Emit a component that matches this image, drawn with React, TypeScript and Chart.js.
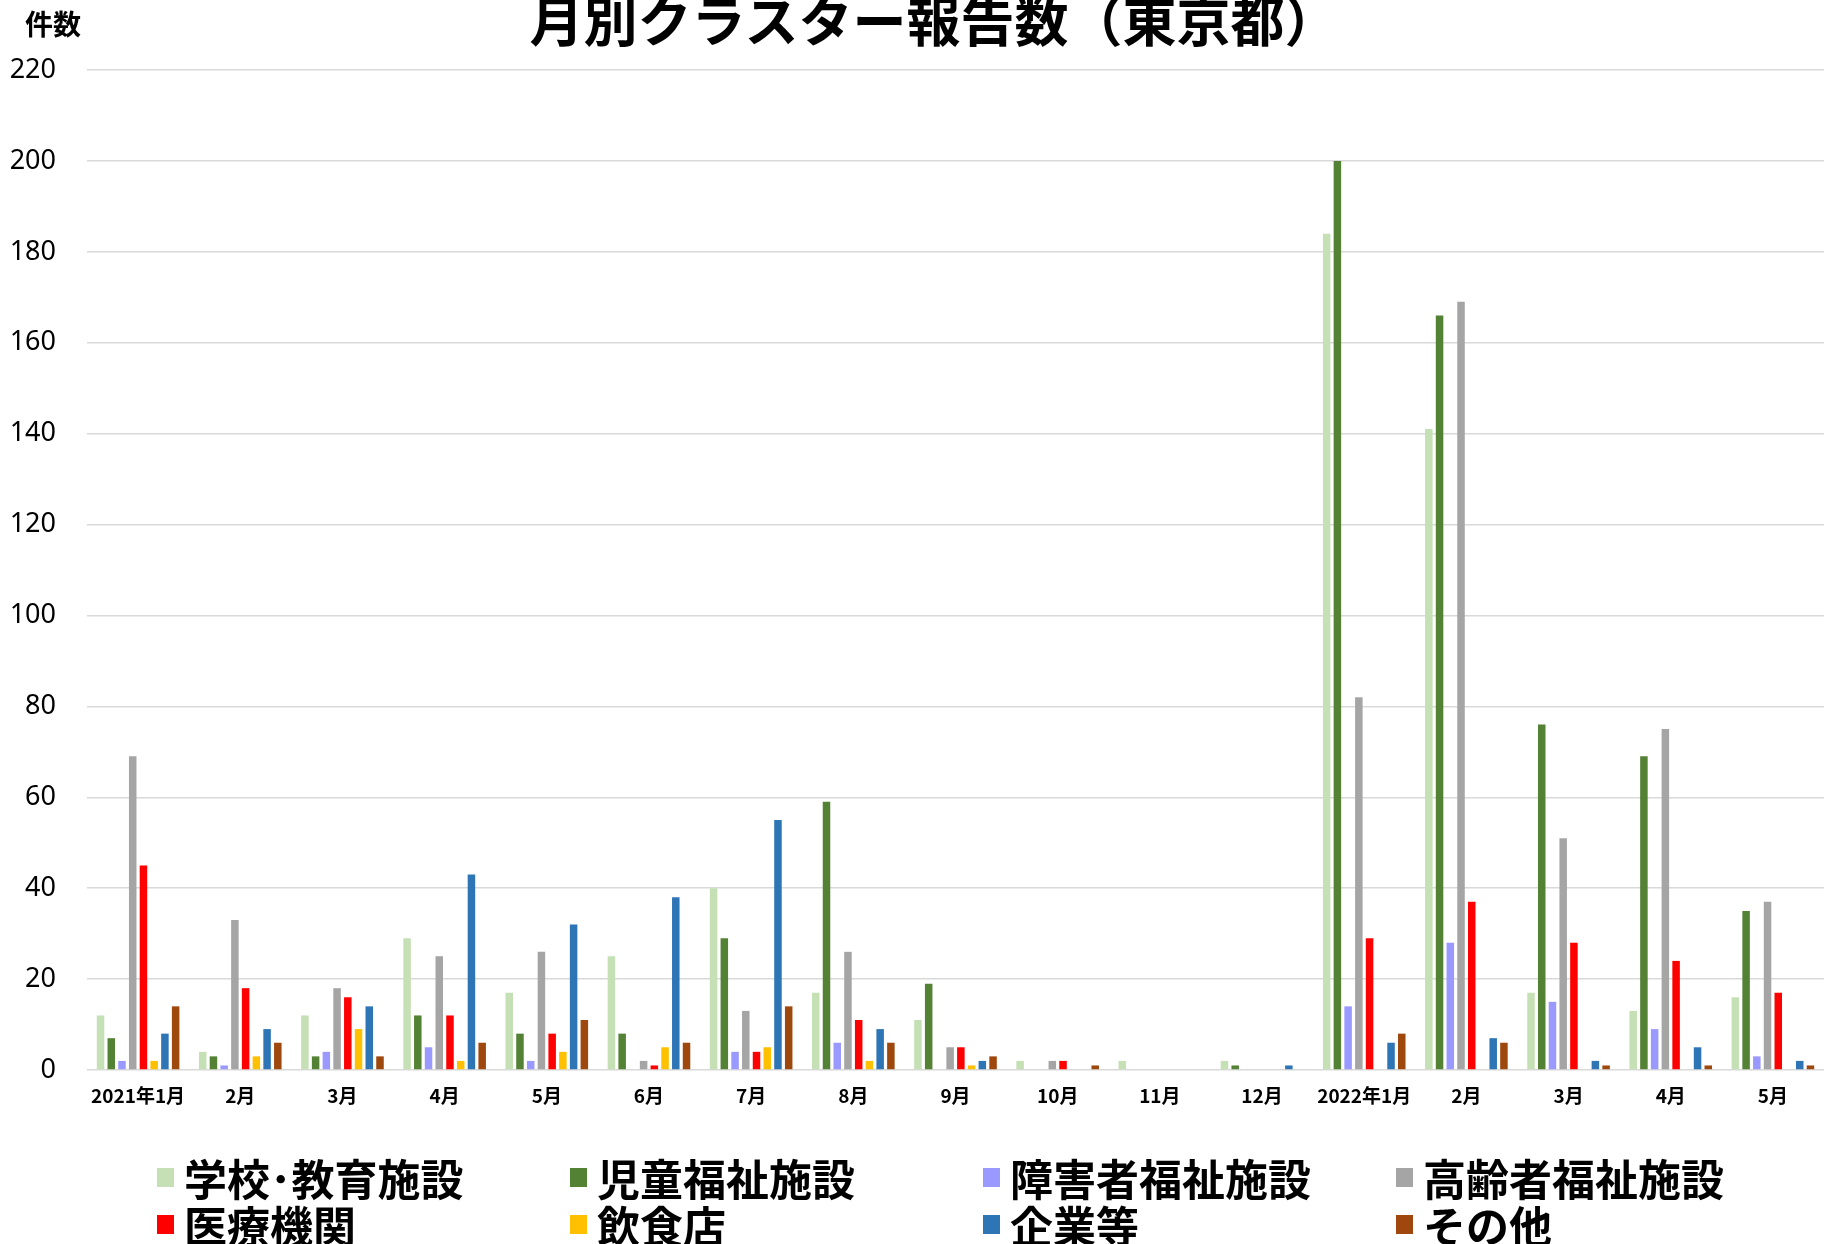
import React, { useEffect, useRef } from "react";
import { Chart, registerables } from "chart.js";

Chart.register(...registerables);

const months = [
  "2021年1月", "2月", "3月", "4月", "5月", "6月", "7月", "8月", "9月", "10月", "11月", "12月",
  "2022年1月", "2月", "3月", "4月", "5月",
];

const seriesNames = [
  "学校･教育施設", "児童福祉施設", "障害者福祉施設", "高齢者福祉施設",
  "医療機関", "飲食店", "企業等", "その他",
];

const seriesColors = [
  "#C5E0B4", "#548235", "#9999FF", "#A5A5A5",
  "#FF0000", "#FFC000", "#2E75B6", "#9E480E",
];

const schools = [12, 4, 12, 29, 17, 25, 40, 17, 11, 2, 2, 2, 184, 141, 17, 13, 16];
const childWelfare = [7, 3, 3, 12, 8, 8, 29, 59, 19, 0, 0, 1, 200, 166, 76, 69, 35];
const disability = [2, 1, 4, 5, 2, 0, 4, 6, 0, 0, 0, 0, 14, 28, 15, 9, 3];
const elderly = [69, 33, 18, 25, 26, 2, 13, 26, 5, 2, 0, 0, 82, 169, 51, 75, 37];
const medical = [45, 18, 16, 12, 8, 1, 4, 11, 5, 2, 0, 0, 29, 37, 28, 24, 17];
const restaurants = [2, 3, 9, 2, 4, 5, 5, 2, 1, 0, 0, 0, 0, 0, 0, 0, 0];
const companies = [8, 9, 14, 43, 32, 38, 55, 9, 2, 0, 0, 1, 6, 7, 2, 5, 2];
const others = [14, 6, 3, 6, 11, 6, 14, 6, 3, 1, 0, 0, 8, 6, 1, 1, 1];

const seriesValues = [schools, childWelfare, disability, elderly, medical, restaurants, companies, others];

const yMin = 0;
const yMax = 220;
const yStep = 20;

const legendCols = [157, 570, 983, 1396];
const legendRows = [1177, 1224];

export default function App() {
  const canvasRef = useRef<HTMLCanvasElement | null>(null);

  useEffect(() => {
    if (!canvasRef.current) return;
    const chart = new Chart(canvasRef.current, {
      type: "bar",
      data: {
        labels: months,
        datasets: seriesNames.map((name, i) => ({
          label: name,
          data: seriesValues[i],
          backgroundColor: seriesColors[i],
          borderWidth: 0,
          barPercentage: 0.7,
          categoryPercentage: 0.84,
        })),
      },
      options: {
        responsive: false,
        animation: false,
        layout: { padding: { top: 70, bottom: 114, left: 0, right: 0 } },
        plugins: {
          legend: { display: false },
          title: { display: false },
          tooltip: { enabled: false },
        },
        scales: {
          x: {
            grid: { display: false, drawTicks: false },
            border: { display: false },
            ticks: {
              color: "#000",
              font: { family: "'Noto Sans CJK JP', 'Noto Sans'", size: 19, weight: "bold" },
              padding: 14,
              maxRotation: 0,
              autoSkip: false,
            },
            afterFit: (scale: any) => {
              scale.height = 60;
            },
          },
          y: {
            min: yMin,
            max: yMax,
            grid: { color: "#d9d9d9", lineWidth: 1.5, drawTicks: false },
            border: { display: false },
            ticks: {
              stepSize: yStep,
              color: "#000",
              font: { family: "'Noto Sans'", size: 27 },
              padding: 31,
            },
            afterFit: (scale: any) => {
              scale.width = 87;
            },
          },
        },
      },
    });
    return () => chart.destroy();
  }, []);

  const jp = "'Noto Sans CJK JP', 'Noto Sans', sans-serif";

  return (
    <div style={{ position: "absolute", left: 0, top: 0, width: 1824, height: 1244, overflow: "hidden", background: "#fff" }}>
      <canvas ref={canvasRef} width={1824} height={1244} style={{ position: "absolute", left: 0, top: 0, width: 1824, height: 1244 }} />
      <div style={{ position: "absolute", left: 434, width: 1000, top: -11, textAlign: "center", fontFamily: jp, fontWeight: 700, fontSize: 54, lineHeight: "60px", color: "#000", whiteSpace: "nowrap" }}>
        月別クラスター報告数（東京都）
      </div>
      <div style={{ position: "absolute", left: 25, top: 7, fontFamily: jp, fontWeight: 700, fontSize: 28, lineHeight: "32px", color: "#000" }}>
        件数
      </div>
      {seriesNames.map((name, i) => {
        const col = legendCols[i % 4];
        const row = legendRows[Math.floor(i / 4)];
        return (
          <div key={name} style={{ position: "absolute", left: col, top: row - 25, height: 50, display: "flex", alignItems: "center", whiteSpace: "nowrap" }}>
            <div style={{ width: 17, height: 19, background: seriesColors[i], marginRight: 10 }} />
            <span style={{ fontFamily: jp, fontWeight: 700, fontSize: 43, lineHeight: "50px", color: "#000" }}>{name}</span>
          </div>
        );
      })}
    </div>
  );
}
